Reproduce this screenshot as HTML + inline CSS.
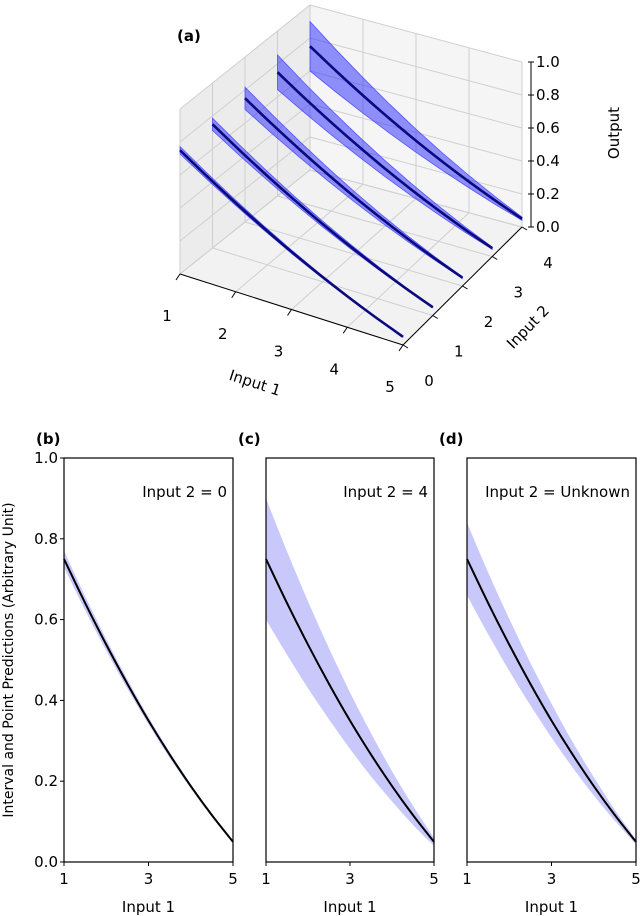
<!DOCTYPE html>
<html><head><meta charset="utf-8"><style>
body{margin:0;background:#fff}
svg{display:block;font-family:"DejaVu Sans","Liberation Sans",sans-serif}
</style></head><body>
<svg id="fig" width="640" height="916" viewBox="0 0 640 916" xmlns="http://www.w3.org/2000/svg">
<g id="p3d"></g>
<g id="p2d"></g>
</svg>
<script>
// ---- data ----
const xInput1 = [1, 1.5, 2, 2.5, 3, 3.5, 4, 4.5, 5];
const meanOutput = [0.75, 0.641, 0.538, 0.441, 0.35, 0.266, 0.188, 0.116, 0.05];
const input2Levels = [0, 1, 2, 3, 4];
const relHalfWidth3d = [0.03, 0.05, 0.09, 0.14, 0.2];
const bandUpperB = [0.77, 0.658, 0.552, 0.452, 0.359, 0.273, 0.193, 0.119, 0.051];
const bandLowerB = [0.73, 0.623, 0.523, 0.429, 0.341, 0.258, 0.182, 0.112, 0.049];
const bandUpperC = [0.90, 0.769, 0.645, 0.529, 0.42, 0.319, 0.225, 0.139, 0.06];
const bandLowerC = [0.60, 0.513, 0.43, 0.353, 0.28, 0.212, 0.15, 0.092, 0.04];
const bandUpperD = [0.84, 0.717, 0.602, 0.493, 0.392, 0.297, 0.21, 0.129, 0.056];
const bandLowerD = [0.66, 0.564, 0.473, 0.388, 0.308, 0.234, 0.165, 0.102, 0.044];
const zTicks = ["0.0","0.2","0.4","0.6","0.8","1.0"];
const yTicks = ["0.0","0.2","0.4","0.6","0.8","1.0"];
const xTicks = ["1","3","5"];
const x1Ticks = ["1","2","3","4","5"];
const x2Ticks = ["0","1","2","3","4"];

const NS = "http://www.w3.org/2000/svg";
function mk(tag, attrs, parent){const e=document.createElementNS(NS,tag);for(const k in attrs)e.setAttribute(k,attrs[k]);parent.appendChild(e);return e;}
function smooth(pts){let d="M"+pts[0][0].toFixed(2)+","+pts[0][1].toFixed(2);
 for(let i=0;i<pts.length-1;i++){const p0=pts[i-1]||pts[i],p1=pts[i],p2=pts[i+1],p3=pts[i+2]||p2;
  const c1=[p1[0]+(p2[0]-p0[0])/6,p1[1]+(p2[1]-p0[1])/6],c2=[p2[0]-(p3[0]-p1[0])/6,p2[1]-(p3[1]-p1[1])/6];
  d+=" C"+c1.map(v=>v.toFixed(2))+" "+c2.map(v=>v.toFixed(2))+" "+p2[0].toFixed(2)+","+p2[1].toFixed(2);}
 return d;}

// ---- 3D panel ----
const g3 = document.getElementById("p3d");
const Q00=[180,274],Q04=[310,170],Q50=[403,345],Q54=[522,227],ZS=165;
function P(x1,x2,z){const u=(x1-1)/4,v=x2/4;
 const x=(1-u)*(1-v)*Q00[0]+(1-u)*v*Q04[0]+u*(1-v)*Q50[0]+u*v*Q54[0];
 const y=(1-u)*(1-v)*Q00[1]+(1-u)*v*Q04[1]+u*(1-v)*Q50[1]+u*v*Q54[1];
 return [x,y-z*ZS];}
function poly(pts){return pts.map(p=>p[0].toFixed(1)+","+p[1].toFixed(1)).join(" ");}
let e;
e=mk("polygon",{points:poly([P(1,0,0),P(1,4,0),P(5,4,0),P(5,0,0)]),fill:"#f2f2f2",stroke:"none"},g3);

e=mk("polygon",{points:poly([P(1,0,0),P(1,4,0),P(1,4,1),P(1,0,1)]),fill:"#ececec",stroke:"none"},g3);

e=mk("polygon",{points:poly([P(1,4,0),P(5,4,0),P(5,4,1),P(1,4,1)]),fill:"#f5f5f5",stroke:"none"},g3);

const gridG=mk("g",{stroke:"#cfcfcf","stroke-width":1,fill:"none"},g3);

function line3(a,b,par,attrs){return mk("line",Object.assign({x1:a[0],y1:a[1],x2:b[0],y2:b[1]},attrs||{}),par);}
x1Ticks.forEach(t=>{const x=+t;line3(P(x,0,0),P(x,4,0),gridG);line3(P(x,4,0),P(x,4,1),gridG);});
x2Ticks.forEach(t=>{const v=+t;line3(P(1,v,0),P(5,v,0),gridG);line3(P(1,v,0),P(1,v,1),gridG);});
zTicks.forEach(t=>{const z=+t;line3(P(1,0,z),P(1,4,z),gridG);line3(P(1,4,z),P(5,4,z),gridG);});
input2Levels.forEach((v,i)=>{
 const up=xInput1.map((x,j)=>P(x,v,meanOutput[j]*(1+relHalfWidth3d[i])));
 const lo=xInput1.map((x,j)=>P(x,v,meanOutput[j]*(1-relHalfWidth3d[i])));
 const b=mk("polygon",{points:poly(up.concat(lo.slice().reverse())),fill:"rgba(40,40,255,0.5)",stroke:"rgba(60,60,255,0.8)","stroke-width":0.8},g3);
 
 const l=mk("path",{d:smooth(xInput1.map((x,j)=>P(x,v,meanOutput[j]))),fill:"none",stroke:"#0a0a80","stroke-width":2.6},g3);
 
});
const axG=mk("g",{stroke:"#000","stroke-width":1},g3);

line3(P(1,0,0),P(5,0,0),axG);line3(P(5,0,0),P(5,4,0),axG);
const zx=Q54[0]+9;
mk("line",{x1:zx,y1:P(5,4,0)[1],x2:zx,y2:P(5,4,1)[1]},axG);
function txt(par,x,y,s,attrs,name){const t=mk("text",Object.assign({x:x,y:y,"font-size":15,fill:"#000"},attrs||{}),par);t.textContent=s;
 return t;}
x1Ticks.forEach(t=>{const p=P(+t,0,0);line3(p,[p[0]-4,p[1]+6],axG);
 txt(g3,p[0]-13,p[1]+47,t,{"text-anchor":"middle"},'x1-tick-label');});
x2Ticks.forEach(t=>{const p=P(5,+t,0);line3(p,[p[0]+5,p[1]+3],axG);
 txt(g3,p[0]+26,p[1]+41,t,{"text-anchor":"middle"},'x2-tick-label');});
zTicks.forEach(t=>{const z=+t,y=P(5,4,z)[1];mk("line",{x1:zx-3,y1:y,x2:zx+3,y2:y},axG);
 txt(g3,zx+5,y+5,t,{},'z-tick-label');});
txt(g3,255,388,"Input 1",{"text-anchor":"middle",transform:"rotate(18 255 383)"},'x1-axis-title');
txt(g3,528,332,"Input 2",{"text-anchor":"middle",transform:"rotate(-46 528 327)"},'x2-axis-title');
txt(g3,619,133,"Output",{"text-anchor":"middle",transform:"rotate(-90 619 133)"},'z-axis-title');
txt(g3,177,41,"(a)",{"font-weight":"bold"},'panel-a-label');

// ---- 2D panels ----
const g2=document.getElementById("p2d");
const Y0=862,Y1=458;
const panels=[
 {L:64,R:233,up:bandUpperB,lo:bandLowerB,lab:"(b)",txt:"Input 2 = 0",id:"b"},
 {L:266,R:434,up:bandUpperC,lo:bandLowerC,lab:"(c)",txt:"Input 2 = 4",id:"c"},
 {L:467,R:636,up:bandUpperD,lo:bandLowerD,lab:"(d)",txt:"Input 2 = Unknown",id:"d"}];
panels.forEach((pn,k)=>{
 const g=mk("g",{},g2);
 const sx=x=>pn.L+(x-1)/4*(pn.R-pn.L), sy=y=>Y0-y*(Y0-Y1);
 const up=xInput1.map((x,j)=>[sx(x),sy(pn.up[j])]),lo=xInput1.map((x,j)=>[sx(x),sy(pn.lo[j])]);
 const bd=smooth(up)+" L"+lo[lo.length-1].join(",")+smooth(lo.slice().reverse()).replace(/^M[^ ]+/,"")+" Z";
 const b=mk("path",{d:bd,fill:"#c8c8fb",stroke:"none"},g);
 
 const l=mk("path",{d:smooth(xInput1.map((x,j)=>[sx(x),sy(meanOutput[j])])),fill:"none",stroke:"#000","stroke-width":2},g);
 
 const r=mk("rect",{x:pn.L,y:Y1,width:pn.R-pn.L,height:Y0-Y1,fill:"none",stroke:"#000","stroke-width":1.2},g);
 
 xTicks.forEach(t=>{const x=sx(+t);mk("line",{x1:x,y1:Y0,x2:x,y2:Y0+4,stroke:"#000"},g);
  txt(g,x,Y0+22,t,{"text-anchor":"middle"},'x-tick-label');});
 if(k===0) yTicks.forEach(t=>{const y=sy(+t);mk("line",{x1:pn.L-4,y1:y,x2:pn.L,y2:y,stroke:"#000"},g);
  txt(g,pn.L-6,y+5,t,{"text-anchor":"end"},'y-tick-label');});
 txt(g,(pn.L+pn.R)/2,912,"Input 1",{"text-anchor":"middle"},'x-axis-title');
 txt(g,pn.L-28,444,pn.lab,{"font-weight":"bold"},'panel-label');
 txt(g,pn.R-6,497,pn.txt,{"text-anchor":"end"},'panel-condition-label');
});
txt(g2,13,660,"Interval and Point Predictions (Arbitrary Unit)",{"text-anchor":"middle","font-size":14,transform:"rotate(-90 13 660)"},'y-axis-title');
</script>
</body></html>
